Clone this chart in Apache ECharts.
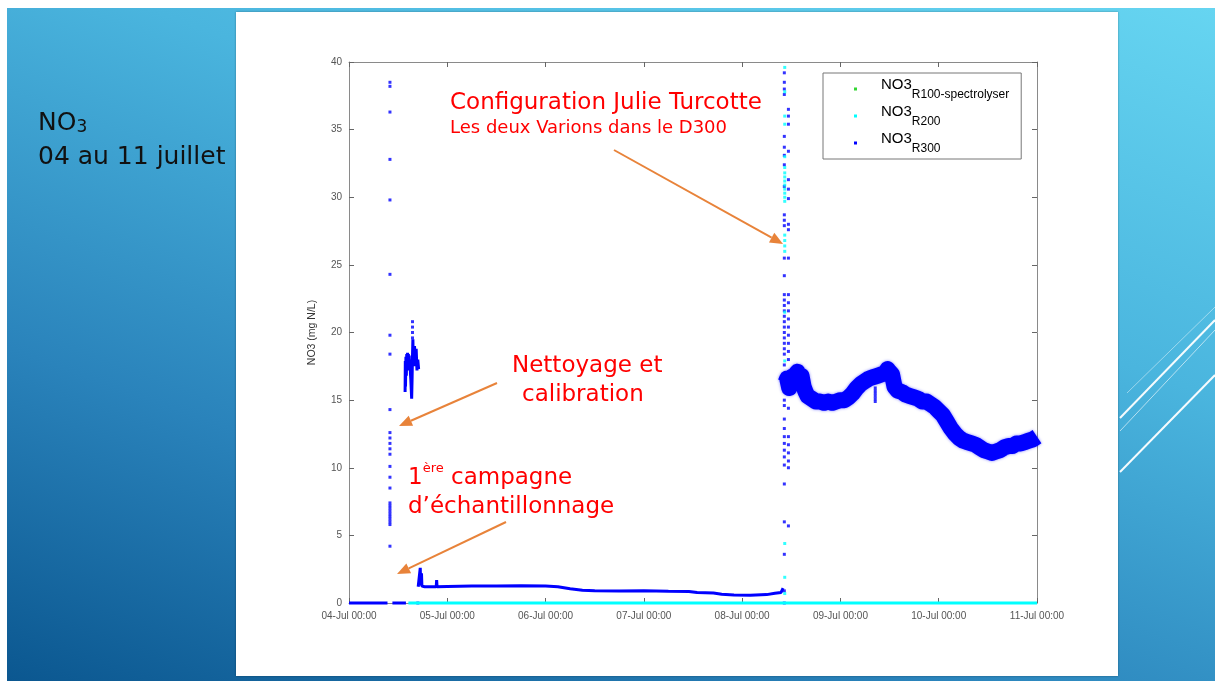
<!DOCTYPE html>
<html>
<head>
<meta charset="utf-8">
<script src="https://cdn.jsdelivr.net/npm/echarts@6/dist/echarts.min.js"></script>
<style>
html,body{margin:0;padding:0;width:1215px;height:681px;overflow:hidden;background:#fff;}
#slide{position:absolute;left:7px;top:8px;width:1208px;height:673px;
  background:linear-gradient(200deg,#66d5f1 0%,#4ab5de 35%,#2a83bb 70%,#0b5790 100%);}
#panel{position:absolute;left:236px;top:12px;width:882px;height:664px;background:#fff;box-shadow:0 0 2px rgba(0,0,0,0.35);}
#chart{position:absolute;left:0;top:0;width:1215px;height:681px;}
</style>
</head>
<body>
<div id="slide"></div>
<div id="panel"></div>
<div id="chart"></div>
<script>
// ---------- data (hours since 04-Jul 00:00) ----------
const dayLabels = ['04-Jul 00:00','05-Jul 00:00','06-Jul 00:00','07-Jul 00:00','08-Jul 00:00','09-Jul 00:00','10-Jul 00:00','11-Jul 00:00'];
const yTicks = [0,5,10,15,20,25,30,35,40];
const legendBase = 'NO3';
const legendSubs = ['R100-spectrolyser','R200','R300'];
const seriesNames = ['NO3_R100-spectrolyser','NO3_R200','NO3_R300'];

// R100 spectrolyser : nothing visible
const r100Hours = [];
const r100Values = [];

// R200 : flat zero line + dots in 08-Jul spike
const r200LineHours = [14.5, 40, 80, 120, 168];
const r200LineValues = [0, 0, 0, 0, 0];
const r200SpikeHour = 106.4;
const r200SpikeValues = [39.6,37.8,36.0,35.4,33.0,32.2,31.8,31.5,31.2,30.9,30.6,30.3,30.0,29.7,27.2,26.8,26.4,26.0,21.5,17.9,4.4,1.9,0.7];

// R300 : continuous trace (null = gap)
const r300TraceHours = [0,3,6,9.4,9.6,10.6,12,13.9,14.0,
  13.7,13.75,13.8,13.9,14.0,14.1,14.2,14.3,14.4,14.5,14.6,14.7,14.8,14.9,15.0,15.1,15.2,15.3,15.4,15.5,15.6,15.7,15.8,15.9,16.0,16.2,16.4,16.6,16.8,17.0,17.05,
  16.9,17.3,17.4,17.5,17.7,17.8,18.5,21.3,21.4,21.5,24,30,36,42,48,51,54,57,60,66,72,78,83,85,89,91,94,98,102,104,105.5,105.9,106.0];
const r300TraceValues = [0,0,0,0,null,0,0,0,null,
  15.6,17.9,16.0,18.2,16.8,18.4,17.2,18.5,17.3,18.4,17.4,18.3,17.2,18.0,17.0,16.5,15.8,15.1,16.5,18.2,19.5,17.8,18.6,17.5,19.0,17.6,18.8,17.2,18.0,17.3,null,
  1.2,1.25,2.6,1.3,2.2,1.25,1.2,1.2,1.7,1.2,1.22,1.25,1.25,1.27,1.25,1.2,1.05,0.95,0.9,0.88,0.9,0.87,0.85,0.77,0.74,0.65,0.6,0.58,0.62,0.72,0.78,0.8,1.1];

// R300 : dense noisy band after reconfiguration
const r300BandHours = [106.6,107,107.5,108,108.5,109,109.5,110,110.5,111,111.5,112,113,114,115,116,117,118,119,120,121,122,123,124,125,126,127,128,129,130,131,131.5,132,132.6,133.2,134,135,136,137,138,139,140,141,142,143,144,145,146,147,148,149,150,151,152,153,154,155,156,157,158,159,160,161,162,163,164,165,166,167,168];
const r300BandValues = [16.3,16.6,15.9,16.7,16.2,16.9,17.1,16.5,16.8,16.0,15.6,15.3,15.1,14.9,14.9,14.8,14.9,14.8,14.9,15.0,15.0,15.2,15.5,15.9,16.2,16.4,16.6,16.7,16.8,16.9,17.0,17.3,17.1,16.9,16.0,15.7,15.6,15.4,15.3,15.2,15.1,14.9,14.9,14.7,14.5,14.2,13.9,13.4,12.9,12.5,12.2,12.0,11.9,11.8,11.7,11.5,11.3,11.2,11.1,11.2,11.3,11.5,11.6,11.6,11.8,11.8,11.9,12.0,12.1,12.3];

// R300 : isolated dots
const r300Spike1Hour = 10.0;
const r300Spike1Values = [38.5,38.2,36.3,32.8,29.8,24.3,19.8,18.4,14.3,12.6,12.2,11.8,11.4,11.0,10.1,9.3,8.5,7.4,7.2,7.0,6.8,6.6,6.4,6.2,6.0,5.8,4.2];
const r300BlobHour = 15.5;
const r300BlobValues = [20.8,20.4,20.0,19.6];
const r300ZeroDotHour = 16.8;
const r300ZeroDotValues = [0];
const r300Spike2Hour = 106.3;
const r300Spike2Values = [39.2,38.5,38.0,37.6,34.5,33.7,33.1,32.4,30.8,28.7,28.3,27.9,25.5,24.2,22.8,22.4,22.0,21.6,21.2,20.8,20.4,20.0,19.6,19.2,18.8,18.4,17.6,16.3,15.0,14.6,13.6,12.9,12.3,11.8,11.3,10.8,10.2,8.8,6.0,3.6,0.9,0];
const r300Spike3Hour = 107.3;
const r300Spike3Values = [36.5,36.0,35.4,33.4,31.3,30.6,29.9,28.0,27.6,25.5,22.8,22.2,21.6,21.0,20.4,19.8,19.2,18.6,18.0,14.4,12.3,11.7,11.1,10.5,10.0,5.7];
const r300DipHour = 128.5;
const r300DipValues = [15.9,15.7,15.5,15.3,15.1,14.9];

// ---------- helpers ----------
function pairs(h, v){ return h.map((x,i)=>[x, v[i]===null ? '-' : v[i]]); }
function column(h, vals){ return vals.map(v=>[h, v]); }

const BLUE = '#0000ff', CYAN = '#00ffff', GREEN = '#00cc00';
const r300Dots = [].concat(
  column(r300Spike1Hour, r300Spike1Values),
  column(r300BlobHour, r300BlobValues),
  column(r300ZeroDotHour, r300ZeroDotValues),
  column(r300Spike2Hour, r300Spike2Values),
  column(r300Spike3Hour, r300Spike3Values),
  column(r300DipHour, r300DipValues));

function arrow(x1,y1,x2,y2,color){
  const dx=x2-x1, dy=y2-y1, L=Math.hypot(dx,dy), ux=dx/L, uy=dy/L;
  const hl=13, hw=5.5, bx=x2-hl*ux, by=y2-hl*uy, nx=-uy, ny=ux;
  return [
    {type:'line', silent:true, shape:{x1:x1,y1:y1,x2:bx,y2:by}, style:{stroke:color,lineWidth:2}},
    {type:'polygon', silent:true, shape:{points:[[x2,y2],[bx+hw*nx,by+hw*ny],[bx-hw*nx,by-hw*ny]]}, style:{fill:color}}
  ];
}

const RED = '#ff0000', ORANGE = '#e8833a';
const annoFont = 'DejaVu Sans';
const graphics = [
  {type:'line', silent:true, shape:{x1:1120,y1:472,x2:1215,y2:375}, style:{stroke:'rgba(255,255,255,0.95)',lineWidth:2}},
  {type:'line', silent:true, shape:{x1:1120,y1:418,x2:1215,y2:320}, style:{stroke:'rgba(255,255,255,0.95)',lineWidth:2}},
  {type:'line', silent:true, shape:{x1:1120,y1:431,x2:1215,y2:330}, style:{stroke:'rgba(255,255,255,0.6)',lineWidth:1}},
  {type:'line', silent:true, shape:{x1:1127,y1:393,x2:1215,y2:307}, style:{stroke:'rgba(255,255,255,0.45)',lineWidth:1}},
  {type:'text', x:38, y:121, style:{text:'{n|NO}{s|3}', verticalAlign:'middle', rich:{
      n:{fontSize:25, fontFamily:annoFont, fill:'#111', lineHeight:30, verticalAlign:'bottom'},
      s:{fontSize:17, fontFamily:annoFont, fill:'#111', lineHeight:30, verticalAlign:'bottom'}}}},
  {type:'text', x:38, y:157, style:{text:'04 au 11 juillet', fontSize:25, fontFamily:annoFont, fill:'#111', verticalAlign:'middle'}},
  {type:'text', x:450, y:103, style:{text:'Configuration Julie Turcotte', fontSize:23, fontFamily:annoFont, fill:RED, verticalAlign:'middle'}},
  {type:'text', x:450, y:128, style:{text:'Les deux Varions dans le D300', fontSize:18, fontFamily:annoFont, fill:RED, verticalAlign:'middle'}},
  {type:'text', x:512, y:366, style:{text:'Nettoyage et', fontSize:23, fontFamily:annoFont, fill:RED, verticalAlign:'middle'}},
  {type:'text', x:522, y:395, style:{text:'calibration', fontSize:23, fontFamily:annoFont, fill:RED, verticalAlign:'middle'}},
  {type:'text', x:408, y:476, style:{text:'{n|1}{s|ère}{n| campagne}', verticalAlign:'middle', rich:{
      n:{fontSize:23, fontFamily:annoFont, fill:RED, lineHeight:28, verticalAlign:'bottom'},
      s:{fontSize:13, fontFamily:annoFont, fill:RED, lineHeight:28, verticalAlign:'top'}}}},
  {type:'text', x:408, y:507, style:{text:'d\u2019échantillonnage', fontSize:23, fontFamily:annoFont, fill:RED, verticalAlign:'middle'}}
].concat(arrow(614,150,783,244,ORANGE), arrow(497,383,399,426,ORANGE), arrow(506,522,397,574,ORANGE));

const axisColor = '#8a8a8a';
const labelStyle = {fontSize:10, color:'#555', fontFamily:'Liberation Sans'};

const chart = echarts.init(document.getElementById('chart'), null, {renderer:'canvas'});
chart.setOption({
  animation:false,
  backgroundColor:'transparent',
  grid:{left:349, top:62, width:688, height:541, containLabel:false},
  xAxis:[
    {type:'value', min:0, max:168, interval:24, position:'bottom',
     axisLine:{show:true, onZero:false, lineStyle:{color:axisColor}},
     axisTick:{show:true, inside:true, length:5, lineStyle:{color:'#666'}},
     axisLabel:Object.assign({margin:8, formatter:v=>dayLabels[Math.round(v/24)]}, labelStyle),
     splitLine:{show:false}},
    {type:'value', min:0, max:168, interval:24, position:'top',
     axisLine:{show:true, onZero:false, lineStyle:{color:axisColor}},
     axisTick:{show:true, inside:true, length:5, lineStyle:{color:'#666'}},
     axisLabel:{show:false}, splitLine:{show:false}}
  ],
  yAxis:[
    {type:'value', min:0, max:40, interval:5, position:'left',
     name:'NO3 (mg N/L)', nameLocation:'middle', nameGap:31,
     nameTextStyle:{fontSize:10.5, color:'#333', fontFamily:'Liberation Sans'},
     axisLine:{show:true, onZero:false, lineStyle:{color:axisColor}},
     axisTick:{show:true, inside:true, length:5, lineStyle:{color:'#666'}},
     axisLabel:Object.assign({margin:7, formatter:v=>String(yTicks[Math.round(v/5)])}, labelStyle),
     splitLine:{show:false}},
    {type:'value', min:0, max:40, interval:5, position:'right',
     axisLine:{show:true, onZero:false, lineStyle:{color:axisColor}},
     axisTick:{show:true, inside:true, length:5, lineStyle:{color:'#666'}},
     axisLabel:{show:false}, splitLine:{show:false}}
  ],
  legend:{
    left:823, top:73, orient:'vertical',
    data:seriesNames,
    backgroundColor:'#fff', borderColor:'#777', borderWidth:1, borderRadius:0,
    padding:[4,12,4,31],
    itemGap:3, icon:'rect', itemWidth:3, itemHeight:3,
    formatter:name=>{const i=seriesNames.indexOf(name); return '{sp|}{a|'+legendBase+'}{b|'+legendSubs[i]+'}';},
    textStyle:{rich:{
      sp:{width:19},
      a:{fontSize:15, fontFamily:'Liberation Sans', color:'#000', lineHeight:24, verticalAlign:'top'},
      b:{fontSize:12, fontFamily:'Liberation Sans', color:'#000', lineHeight:24, verticalAlign:'bottom'}
    }}
  },
  graphic:graphics,
  series:[
    {name:seriesNames[0], type:'scatter', data:pairs(r100Hours, r100Values), symbol:'rect', symbolSize:3, itemStyle:{color:GREEN}, silent:true},
    {name:seriesNames[1], type:'line', data:pairs(r200LineHours, r200LineValues), showSymbol:false, clip:false, lineStyle:{color:CYAN, width:3}, itemStyle:{color:CYAN}, silent:true},
    {name:seriesNames[2], type:'line', data:pairs(r300TraceHours, r300TraceValues), showSymbol:false, clip:false, connectNulls:false, lineStyle:{color:BLUE, width:3}, itemStyle:{color:BLUE}, silent:true},
    {name:seriesNames[2], type:'line', data:pairs(r300BandHours, r300BandValues), showSymbol:false, lineStyle:{color:BLUE, width:16, join:'round', cap:'butt', shadowBlur:3, shadowColor:'rgba(0,0,255,0.5)'}, itemStyle:{color:BLUE}, silent:true},
    {name:seriesNames[2], type:'scatter', data:r300Dots, symbol:'rect', symbolSize:3, itemStyle:{color:BLUE}, silent:true},
    {name:seriesNames[1], type:'scatter', data:column(r200SpikeHour, r200SpikeValues), symbol:'rect', symbolSize:3, itemStyle:{color:CYAN}, silent:true}
  ]
});
</script>
</body>
</html>
